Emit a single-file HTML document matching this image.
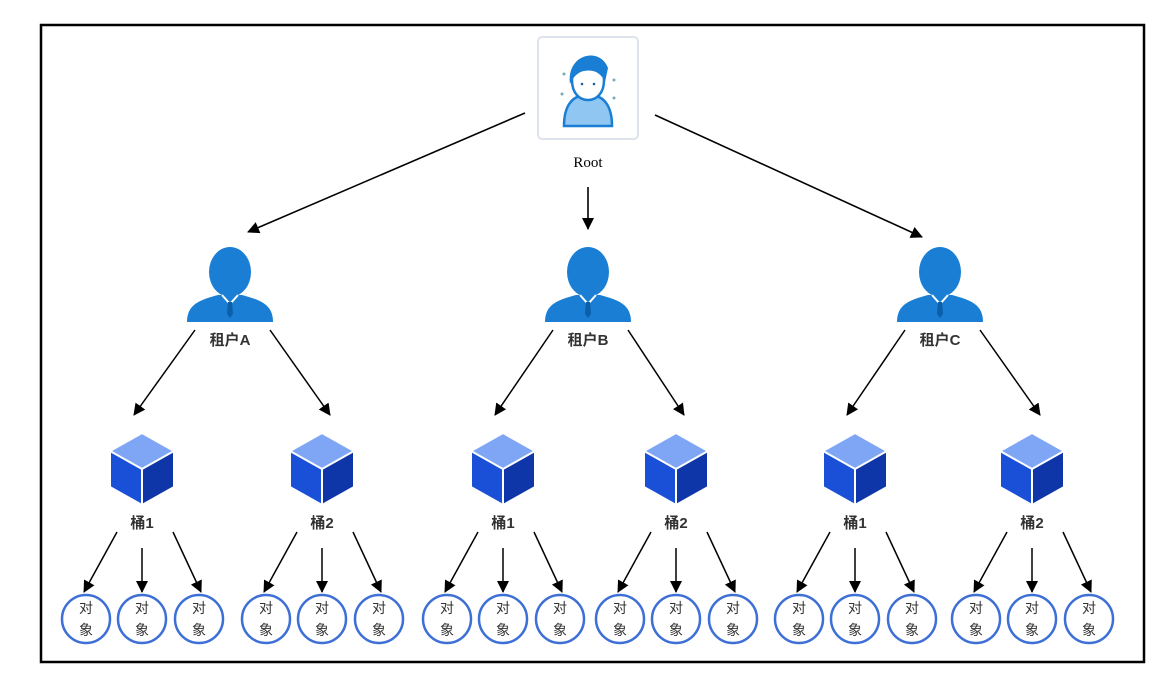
<!DOCTYPE html>
<html><head><meta charset="utf-8"><style>
html,body{margin:0;padding:0;background:#fff;}
svg{display:block;}
text{font-family:"Liberation Sans","Noto Sans CJK SC",sans-serif;}
</style></head><body>
<svg id="s" width="1170" height="690" viewBox="0 0 1170 690" xmlns="http://www.w3.org/2000/svg">
<defs>
<marker id="a" markerWidth="12" markerHeight="12" refX="11" refY="6" orient="auto" markerUnits="userSpaceOnUse">
<path d="M0,0 L12,6 L0,12 Z" fill="#000"/></marker>
<g id="tenant">
<ellipse cx="0" cy="-50" rx="21" ry="25" fill="#1a7fd4"/>
<path d="M-43,0 C-43,-18 -30,-22 -12,-27 L12,-27 C30,-22 43,-18 43,0 Z" fill="#1a7fd4"/>
<path d="M-8,-27 L0,-18 L8,-27" fill="none" stroke="#fff" stroke-width="2"/>
<path d="M-2,-20 L2,-20 L3,-8 L0,-4 L-3,-8 Z" fill="#0d5fa8"/>
</g>
<g id="cube">
<path d="M0,-36 L32,-18 L0,0 L-32,-18 Z" fill="#7ea6f5"/>
<path d="M-32,-18 L0,0 L0,36 L-32,18 Z" fill="#1a4fd8"/>
<path d="M32,-18 L0,0 L0,36 L32,18 Z" fill="#0f36a8"/>
<path d="M0,-36 L32,-18 L32,18 L0,36 L-32,18 L-32,-18 Z M0,0 L0,36 M-32,-18 L0,0 L32,-18" fill="none" stroke="#fff" stroke-width="2"/>
</g>
</defs>
<rect x="41" y="25" width="1103" height="637" fill="none" stroke="#000" stroke-width="2.5"/>
<!-- root -->
<rect x="538" y="37" width="100" height="102" rx="4" fill="#fff" stroke="#dde3ea" stroke-width="2"/>
<g transform="translate(588,86)">
<path d="M-24,40 C-24,20 -16,12 -8,10 L8,10 C16,12 24,20 24,40 Z" fill="#8fc6f2" stroke="#1a7fd4" stroke-width="2.5"/>
<path d="M-16,-6 C-16,-22 -8,-28 0,-28 C8,-28 16,-22 16,-6 C16,8 8,14 0,14 C-8,14 -16,8 -16,-6 Z" fill="#fff" stroke="#1a7fd4" stroke-width="2.5"/>
<path d="M-18,-2 C-22,-32 12,-40 20,-18 L17,-4 C13,-13 6,-17 -4,-15 C-10,-14 -15,-9 -18,-2 Z" fill="#1a7fd4"/>
<circle cx="-6" cy="-2" r="1.3" fill="#1a5f9a"/><circle cx="6" cy="-2" r="1.3" fill="#1a5f9a"/>
<circle cx="-24" cy="-12" r="1.5" fill="#7ab"/><circle cx="26" cy="-6" r="1.5" fill="#7ab"/><circle cx="-26" cy="8" r="1.5" fill="#7ab"/><circle cx="26" cy="12" r="1.5" fill="#7ab"/>
</g>
<text x="588" y="167" text-anchor="middle" font-size="15" style="font-family:'Liberation Serif',serif">Root</text>
<g stroke="#000" stroke-width="1.6" marker-end="url(#a)">
<line x1="525" y1="113" x2="248" y2="232"/>
<line x1="588" y1="187" x2="588" y2="229"/>
<line x1="655" y1="115" x2="922" y2="237"/>
</g>
<g id="dyn"></g>
</svg>
<script>
var g=document.getElementById("dyn"),h="";
var T=[[230,"A",142,322],[588,"B",503,676],[940,"C",855,1032]];
T.forEach(function(t){
 var x=t[0];
 h+='<use href="#tenant" transform="translate('+x+',322)"/>';
 h+='<text x="'+x+'" y="345" text-anchor="middle" font-size="15" font-weight="bold" fill="#333">租户'+t[1]+'</text>';
 [t[2],t[3]].forEach(function(b,i){
  var sx = i==0? x-35 : x+40;
  h+='<line x1="'+sx+'" y1="330" x2="'+(b+8*(i?1:-1))+'" y2="415" stroke="#000" stroke-width="1.5" marker-end="url(#a)"/>';
  h+='<use href="#cube" transform="translate('+b+',469)"/>';
  h+='<text x="'+b+'" y="528" text-anchor="middle" font-size="15" font-weight="bold" fill="#333">桶'+(i+1)+'</text>';
  [-57,0,57].forEach(function(d){
   var cx=b+d+(d<0?1:0);
   var x1=b+(d<0?-25:d>0?31:0), y1=(d==0?548:532);
   h+='<line x1="'+x1+'" y1="'+y1+'" x2="'+(cx+(d<0?-2:d>0?2:0))+'" y2="592" stroke="#000" stroke-width="1.5" marker-end="url(#a)"/>';
   h+='<circle cx="'+cx+'" cy="619" r="24" fill="#fff" stroke="#3d6fd6" stroke-width="2.5"/>';
   h+='<text x="'+cx+'" y="613" text-anchor="middle" font-size="14" fill="#333">对</text>';
   h+='<text x="'+cx+'" y="635" text-anchor="middle" font-size="14" fill="#333">象</text>';
  });
 });
});
g.innerHTML=h;
</script>
</body></html>
